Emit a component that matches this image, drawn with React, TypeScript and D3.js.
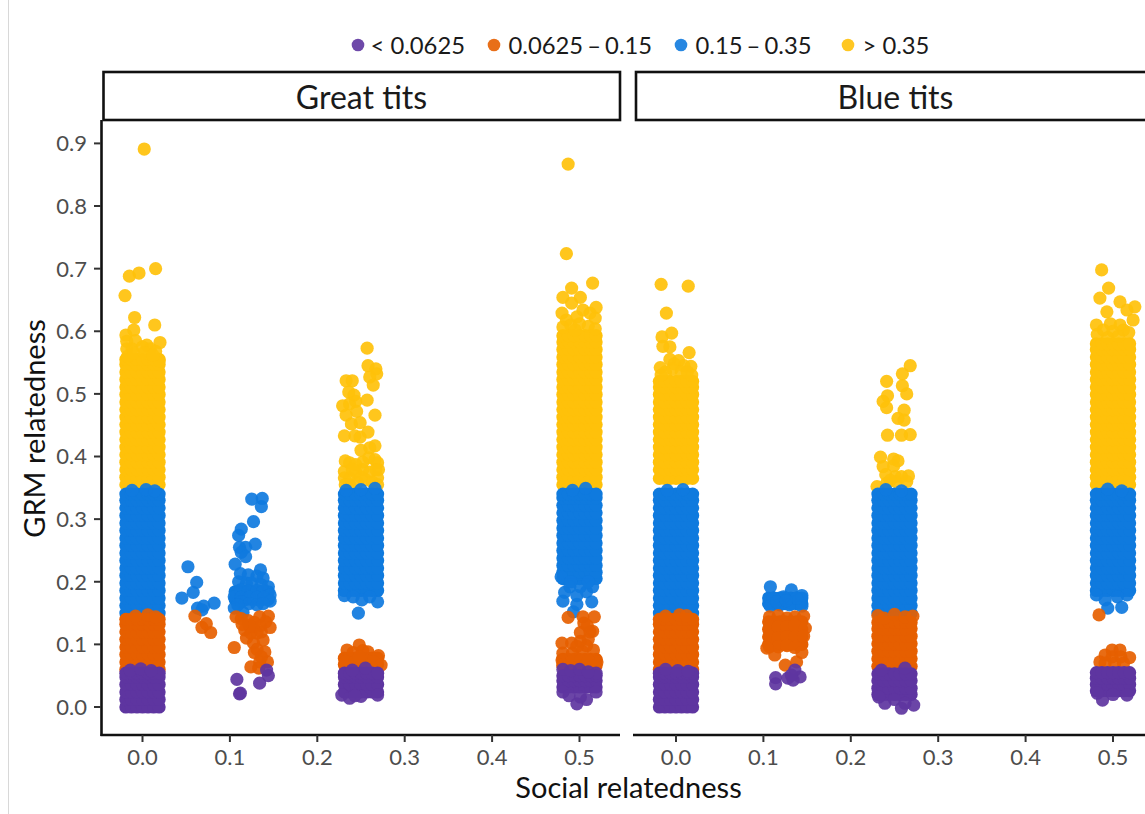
import React from "react";
import * as d3 from "d3";

type Pt = [number, number];

const legendLabels = ["< 0.0625", "0.0625 – 0.15", "0.15 – 0.35", "> 0.35"];
const groupColors = ["#5e35a0", "#e65f00", "#0f7ade", "#ffc10a"];
const panelTitles = ["Great tits", "Blue tits"];
const xTicks = [0, 0.1, 0.2, 0.3, 0.4, 0.5];
const yTicks = [0, 0.1, 0.2, 0.3, 0.4, 0.5, 0.6, 0.7, 0.8, 0.9];

const columnSpread = [-0.019, -0.0127, -0.0063, 0, 0.0063, 0.0127, 0.019];

// GRM levels that fill the dense interiors
const yellowGreat0 = [0.355,0.367,0.379,0.391,0.403,0.415,0.427,0.439,0.451,0.463,0.475,0.487,0.499,0.511,0.523,0.535,0.547,0.555];
const yellowGreat5 = [0.355,0.367,0.379,0.391,0.403,0.415,0.427,0.439,0.451,0.463,0.475,0.487,0.499,0.511,0.523,0.535,0.547,0.559,0.571,0.583,0.593];
const yellowBlue0 = [0.365,0.379,0.391,0.403,0.415,0.427,0.439,0.451,0.463,0.475,0.487,0.499,0.511,0.52];
const yellowBlue5 = [0.355,0.367,0.379,0.391,0.403,0.415,0.427,0.439,0.451,0.463,0.475,0.487,0.499,0.511,0.523,0.535,0.547,0.559,0.571,0.58];
const blueFull = [0.15,0.162,0.174,0.186,0.198,0.21,0.222,0.234,0.246,0.258,0.27,0.282,0.294,0.306,0.318,0.33,0.34];
const blueUpper = [0.186,0.198,0.21,0.222,0.234,0.246,0.258,0.27,0.282,0.294,0.306,0.318,0.33,0.34];
const blueHigh = [0.205,0.215,0.226,0.238,0.25,0.262,0.274,0.286,0.298,0.31,0.322,0.334,0.34];
const blueGreat1 = [0.172,0.184];
const blueBlue1 = [0.165,0.174];
const orangeFull = [0.06,0.072,0.084,0.096,0.108,0.12,0.132,0.14];
const orangeBlue25 = [0.065,0.077,0.089,0.101,0.113,0.125,0.135];
const orangeBlue1 = [0.1,0.112,0.124,0.136];
const orangeGreat25 = [0.068,0.078];
const orangeGreat5 = [0.066,0.076];
const purpleFull = [0,0.012,0.024,0.036,0.048,0.054];
const purpleGreat25 = [0.024,0.036,0.048,0.054];
const purpleGreat5 = [0.032,0.042,0.05];
const purpleBlue25 = [0.02,0.03,0.042,0.053];
const purpleBlue5 = [0.026,0.036,0.046,0.055];

// [panel, social relatedness, group, levels]
const denseBlocks: [number, number, number, number[]][] = [
  [0, 0, 3, yellowGreat0], [0, 0.5, 3, yellowGreat5], [1, 0, 3, yellowBlue0], [1, 0.5, 3, yellowBlue5],
  [0, 0, 2, blueFull], [0, 0.25, 2, blueUpper], [0, 0.5, 2, blueHigh], [1, 0, 2, blueFull], [1, 0.25, 2, blueFull], [1, 0.5, 2, blueUpper], [0, 0.125, 2, blueGreat1], [1, 0.125, 2, blueBlue1],
  [0, 0, 1, orangeFull], [1, 0, 1, orangeFull], [1, 0.25, 1, orangeBlue25], [1, 0.125, 1, orangeBlue1], [0, 0.25, 1, orangeGreat25], [0, 0.5, 1, orangeGreat5],
  [0, 0, 0, purpleFull], [0, 0.25, 0, purpleGreat25], [0, 0.5, 0, purpleGreat5], [1, 0, 0, purpleFull], [1, 0.25, 0, purpleBlue25], [1, 0.5, 0, purpleBlue5],
];

// Individually read points: [social relatedness with jitter, GRM relatedness]
const greatYellow: Pt[] = [
  [0.002,0.891],[-0.015,0.688],[-0.004,0.693],[0.015,0.7],[-0.02,0.657],[-0.009,0.622],[0.014,0.61],[-0.01,0.602],[-0.019,0.594],[-0.018,0.584],[0.02,0.582],[-0.008,0.585],[0.005,0.578],[-0.018,0.572],[-0.012,0.572],[0,0.575],[0.009,0.572],[0.015,0.568],[0.019,0.553],[-0.017,0.56],[-0.01,0.565],[0.002,0.566],[0.012,0.562],
  [0.257,0.573],[0.233,0.521],[0.24,0.521],[0.267,0.54],[0.258,0.545],[0.268,0.532],[0.26,0.527],[0.264,0.514],[0.236,0.503],[0.242,0.498],[0.229,0.481],[0.237,0.484],[0.244,0.488],[0.257,0.49],[0.245,0.472],[0.233,0.466],[0.266,0.466],[0.239,0.452],[0.249,0.454],[0.243,0.433],[0.249,0.431],[0.258,0.439],[0.231,0.433],[0.266,0.417],[0.26,0.414],[0.25,0.41],
  [0.232,0.393],[0.237,0.39],[0.244,0.387],[0.252,0.391],[0.259,0.398],[0.266,0.395],[0.269,0.39],[0.231,0.366],[0.237,0.366],[0.244,0.375],[0.252,0.379],[0.26,0.375],[0.267,0.379],[0.269,0.366],[0.232,0.355],[0.237,0.355],[0.246,0.359],[0.255,0.363],[0.263,0.359],[0.269,0.355],[0.231,0.376],[0.27,0.379],[0.25,0.367],[0.24,0.38],
  [0.487,0.867],[0.485,0.724],[0.515,0.677],[0.491,0.669],[0.481,0.654],[0.501,0.654],[0.519,0.638],[0.48,0.629],[0.491,0.645],[0.504,0.634],[0.512,0.629],[0.518,0.621],[0.485,0.618],[0.497,0.623],[0.481,0.607],[0.49,0.61],[0.5,0.612],[0.51,0.608],[0.518,0.604],[0.495,0.602],
];
const blueYellow: Pt[] = [
  [-0.017,0.675],[0.014,0.672],[-0.011,0.629],[-0.016,0.591],[-0.005,0.597],[-0.015,0.576],[-0.007,0.575],[0.015,0.566],[-0.007,0.555],[0.003,0.553],[-0.018,0.542],[0.017,0.544],[0.009,0.545],[-0.002,0.548],[-0.012,0.535],[-0.004,0.54],[0.006,0.535],[0.013,0.535],[0.018,0.53],[-0.017,0.53],
  [0.268,0.545],[0.259,0.532],[0.241,0.52],[0.259,0.513],[0.264,0.5],[0.242,0.497],[0.237,0.488],[0.241,0.478],[0.261,0.474],[0.254,0.461],[0.261,0.458],[0.242,0.434],[0.258,0.434],[0.268,0.435],[0.234,0.399],[0.249,0.396],[0.254,0.393],[0.237,0.384],[0.249,0.385],[0.24,0.371],[0.266,0.369],[0.258,0.368],[0.251,0.368],[0.23,0.352],[0.241,0.357],[0.252,0.36],[0.264,0.36],[0.245,0.362],
  [0.487,0.698],[0.495,0.669],[0.485,0.653],[0.508,0.647],[0.525,0.639],[0.516,0.634],[0.493,0.631],[0.523,0.618],[0.481,0.61],[0.508,0.61],[0.497,0.612],[0.489,0.602],[0.5,0.6],[0.512,0.602],[0.518,0.598],[0.482,0.595],[0.494,0.59],[0.506,0.592],
];
const greatBlue: Pt[] = [
  [-0.012,0.346],[0.004,0.347],[0.014,0.345],
  [0.052,0.224],[0.062,0.199],[0.058,0.183],[0.045,0.174],[0.082,0.166],[0.07,0.161],[0.063,0.158],[0.068,0.155],
  [0.125,0.332],[0.137,0.333],[0.136,0.32],[0.127,0.296],[0.113,0.284],[0.11,0.274],[0.129,0.26],[0.111,0.255],[0.118,0.255],[0.113,0.247],[0.118,0.24],[0.106,0.228],[0.135,0.219],[0.112,0.213],[0.121,0.211],[0.131,0.209],[0.138,0.206],[0.11,0.2],[0.119,0.198],[0.125,0.198],[0.136,0.195],[0.144,0.192],[0.112,0.187],[0.121,0.185],[0.131,0.186],[0.138,0.185],[0.146,0.179],[0.105,0.176],[0.113,0.175],[0.122,0.175],[0.131,0.175],[0.139,0.175],[0.146,0.169],[0.105,0.158],[0.113,0.168],[0.115,0.151],[0.122,0.165],[0.131,0.163],[0.138,0.165],[0.109,0.163],
  [0.247,0.15],[0.231,0.178],[0.251,0.171],[0.269,0.168],[0.241,0.176],[0.26,0.176],[0.233,0.346],[0.25,0.347],[0.266,0.349],
  [0.483,0.183],[0.481,0.169],[0.497,0.164],[0.493,0.152],[0.514,0.168],[0.479,0.208],[0.489,0.192],[0.501,0.192],[0.515,0.192],[0.497,0.178],[0.508,0.184],[0.49,0.2],[0.51,0.2],[0.492,0.346],[0.507,0.349],
];
const blueBlue: Pt[] = [
  [-0.01,0.346],[0.008,0.347],
  [0.24,0.347],[0.258,0.345],
  [0.108,0.192],[0.132,0.187],[0.144,0.178],[0.123,0.176],[0.111,0.174],[0.108,0.161],[0.119,0.163],[0.13,0.163],[0.144,0.161],[0.138,0.174],[0.115,0.168],[0.126,0.17],
  [0.494,0.158],[0.51,0.159],[0.481,0.179],[0.516,0.179],[0.491,0.171],[0.505,0.176],[0.494,0.348],[0.51,0.345],
];
const greatOrange: Pt[] = [
  [-0.008,0.145],[0.006,0.147],[0.015,0.144],
  [0.06,0.145],[0.068,0.127],[0.073,0.133],[0.078,0.119],
  [0.105,0.095],[0.107,0.144],[0.113,0.141],[0.121,0.138],[0.134,0.144],[0.144,0.145],[0.146,0.127],[0.135,0.13],[0.126,0.128],[0.117,0.123],[0.131,0.118],[0.138,0.107],[0.119,0.11],[0.127,0.102],[0.128,0.087],[0.14,0.088],[0.143,0.072],[0.134,0.072],[0.124,0.064],[0.133,0.062],[0.124,0.118],[0.136,0.12],[0.128,0.135],[0.141,0.136],[0.131,0.092],[0.136,0.08],[0.122,0.13],[0.114,0.132],
  [0.234,0.091],[0.248,0.099],[0.258,0.088],[0.27,0.082],[0.241,0.087],[0.252,0.09],[0.233,0.072],[0.243,0.072],[0.254,0.075],[0.264,0.072],[0.273,0.067],[0.232,0.064],[0.248,0.08],[0.262,0.062],
  [0.487,0.143],[0.504,0.144],[0.517,0.144],[0.505,0.134],[0.501,0.119],[0.515,0.121],[0.48,0.102],[0.491,0.102],[0.501,0.105],[0.51,0.108],[0.516,0.091],[0.481,0.086],[0.492,0.086],[0.503,0.089],[0.52,0.072],[0.48,0.075],[0.491,0.072],[0.501,0.074],[0.51,0.074],[0.516,0.065],[0.481,0.067],[0.497,0.062],[0.508,0.098],[0.497,0.097],[0.512,0.12],[0.509,0.13],
];
const blueOrange: Pt[] = [
  [-0.012,0.145],[0.004,0.147],[0.012,0.146],
  [0.107,0.144],[0.117,0.146],[0.127,0.142],[0.136,0.144],[0.146,0.145],[0.107,0.128],[0.117,0.128],[0.127,0.128],[0.136,0.13],[0.148,0.126],[0.107,0.112],[0.117,0.11],[0.127,0.112],[0.136,0.112],[0.146,0.113],[0.107,0.096],[0.117,0.096],[0.127,0.098],[0.136,0.095],[0.113,0.083],[0.125,0.067],[0.138,0.072],[0.144,0.087],[0.104,0.094],
  [0.231,0.146],[0.238,0.142],[0.25,0.148],[0.262,0.144],[0.271,0.145],
  [0.484,0.147],[0.499,0.091],[0.508,0.091],[0.491,0.083],[0.519,0.079],[0.499,0.08],[0.509,0.08],[0.485,0.072],[0.491,0.07],[0.502,0.07],[0.512,0.07],
];
const greatPurple: Pt[] = [
  [-0.014,0.059],[-0.002,0.061],[0.01,0.058],
  [0.108,0.044],[0.112,0.022],[0.111,0.021],[0.134,0.038],[0.142,0.059],[0.144,0.05],
  [0.24,0.059],[0.255,0.062],[0.228,0.019],[0.237,0.014],[0.25,0.017],[0.243,0.018],[0.269,0.019],
  [0.497,0.005],[0.508,0.012],[0.481,0.024],[0.519,0.024],[0.501,0.016],[0.488,0.018],[0.481,0.06],[0.519,0.054],[0.49,0.058],[0.5,0.06],[0.51,0.056],
];
const bluePurple: Pt[] = [
  [-0.012,0.06],[0.002,0.058],[0.014,0.057],
  [0.114,0.047],[0.114,0.037],[0.128,0.046],[0.136,0.059],[0.142,0.048],[0.134,0.043],[0.132,0.051],
  [0.239,0.006],[0.258,-0.002],[0.272,0.003],[0.232,0.016],[0.25,0.012],[0.262,0.006],[0.235,0.059],[0.262,0.062],
  [0.488,0.011],[0.482,0.022],[0.516,0.019],[0.5,0.02],
];
const scatteredSets: [number, number, Pt[]][] = [
  [0, 3, greatYellow], [1, 3, blueYellow],
  [0, 2, greatBlue], [1, 2, blueBlue],
  [0, 1, greatOrange], [1, 1, blueOrange],
  [0, 0, greatPurple], [1, 0, bluePurple],
];

const legendDotX = [358, 494, 681, 848];
const legendTextX = [370.5, 508.5, 695.5, 862.5];
const font = "Lato, 'Open Sans', sans-serif";
const axisY = 735;

export default function App() {
  const xScales = [
    d3.scaleLinear().domain([0, 0.5]).range([142.5, 579.5]),
    d3.scaleLinear().domain([0, 0.5]).range([676, 1113]),
  ];
  const y = d3.scaleLinear().domain([0, 0.9]).range([707, 143.4]);
  const panels = [{ l: 103.5, r: 620, c: 361.5 }, { l: 636, r: 1160, c: 895.5 }];

  const marks: { panel: number; g: number; x: number; y: number; o: number }[] = [];
  [3, 2, 1, 0].forEach((g) => {
    denseBlocks.filter((b) => b[2] === g).forEach(([panel, social, , levels]) => {
      levels.forEach((lv) => columnSpread.forEach((dx) => marks.push({ panel, g, x: social + dx, y: lv, o: 1 })));
    });
    scatteredSets.filter((s) => s[1] === g).forEach(([panel, , pts]) => {
      pts.forEach(([px, py]) => marks.push({ panel, g, x: px, y: py, o: 0.92 }));
    });
  });

  return (
    <svg width={1145} height={814} style={{ position: "absolute", left: 0, top: 0, display: "block", background: "#fff" }} fontFamily={font}>
      <line x1={8.5} x2={8.5} y1={0} y2={814} stroke="#d8d8d8" strokeWidth={1} />

      {legendLabels.map((t, i) => (
        <g key={t}>
          <circle cx={legendDotX[i]} cy={45} r={6.3} fill={groupColors[i]} fillOpacity={0.9} />
          <text x={legendTextX[i]} y={45} dy="0.36em" fontSize={23.8} wordSpacing={t.includes("–") ? -2 : 0} fill="#1a1a1a">{t}</text>
        </g>
      ))}

      {panels.map((p, i) => (
        <g key={i}>
          <rect x={p.l} y={72} width={p.r - p.l} height={48} fill="#fff" stroke="#111" strokeWidth={2.6} />
          <text x={p.c} y={97} dy="0.36em" textAnchor="middle" fontSize={32} fill="#1a1a1a">{panelTitles[i]}</text>
          <line x1={p.l - 3} x2={p.r} y1={axisY} y2={axisY} stroke="#111" strokeWidth={2.6} />
          {xTicks.map((t) => (
            <g key={t} transform={`translate(${xScales[i](t)},0)`}>
              <line y1={axisY} y2={axisY + 7} stroke="#333" strokeWidth={2} />
              <text y={757} dy="0.36em" textAnchor="middle" fontSize={22} fill="#4d4d4d">{d3.format(".1f")(t)}</text>
            </g>
          ))}
        </g>
      ))}

      <line x1={101.5} x2={101.5} y1={120} y2={736} stroke="#111" strokeWidth={2.6} />
      {yTicks.map((t) => (
        <g key={t} transform={`translate(0,${y(t)})`}>
          <line x1={94} x2={101} stroke="#333" strokeWidth={2} />
          <text x={87} dy="0.36em" textAnchor="end" fontSize={22} fill="#4d4d4d">{d3.format(".1f")(t)}</text>
        </g>
      ))}

      <g>
        {marks.map((m, i) => (
          <circle key={i} cx={xScales[m.panel](m.x)} cy={y(m.y)} r={6.6} fill={groupColors[m.g]} fillOpacity={m.o} />
        ))}
      </g>

      <text transform="translate(35,428.5) rotate(-90)" dy="0.36em" textAnchor="middle" fontSize={29} fill="#111">GRM relatedness</text>
      <text x={628.5} y={788} dy="0.36em" textAnchor="middle" fontSize={29} fill="#111">Social relatedness</text>
    </svg>
  );
}
